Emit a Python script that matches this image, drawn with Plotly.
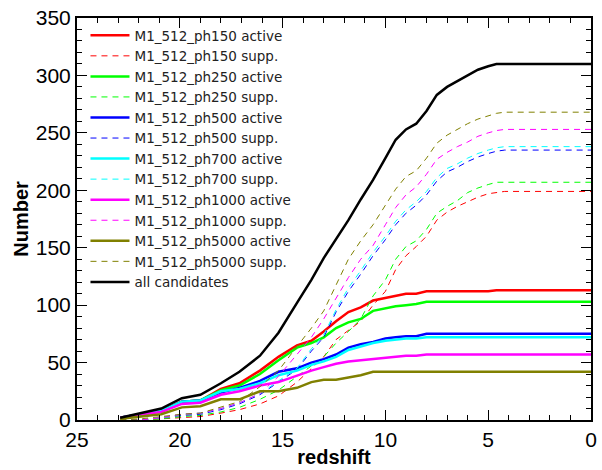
import plotly.graph_objects as go

redshift = [22.9, 21.9, 20.9, 19.9, 19.0, 18.0, 17.1, 16.1, 15.2, 14.3, 13.6, 13.0, 12.4, 11.8,
            11.2, 10.6, 10.0, 9.5, 9.0, 8.5, 8.0, 7.5, 7.0, 6.5, 6.0, 5.5, 5.0, 4.6, 4.2, 0.0]

ph150_active = [2, 5, 8, 16, 17, 27, 32, 43, 55, 65, 69, 77, 86, 94, 98, 104, 106, 108, 110, 110,
                112, 112, 112, 112, 112, 112, 112, 113, 113, 113]
ph150_supp = [0, 0, 1, 2, 3, 6, 9, 14, 21, 33, 45, 55, 70, 78, 86, 100, 112, 131, 143, 151,
              160, 174, 181, 186, 190, 194, 197, 198, 199, 199]
ph250_active = [2, 5, 8, 16, 17, 26, 30, 40, 52, 63, 67, 72, 80, 85, 88, 95, 97, 99, 100, 101,
                103, 103, 103, 103, 103, 103, 103, 103, 103, 103]
ph250_supp = [0, 0, 1, 3, 4, 7, 11, 18, 26, 38, 47, 55, 67, 77, 88, 108, 122, 140, 151, 156,
              166, 180, 186, 191, 198, 202, 205, 207, 207, 207]
ph500_active = [2, 5, 8, 16, 17, 24, 28, 34, 42, 45, 50, 53, 57, 63, 66, 68, 71, 72, 73, 73,
                75, 75, 75, 75, 75, 75, 75, 75, 75, 75]
ph500_supp = [0, 0, 2, 4, 5, 9, 14, 22, 33, 44, 60, 72, 94, 112, 127, 143, 157, 170, 180, 187,
              196, 208, 216, 220, 225, 229, 232, 234, 235, 235]
ph700_active = [2, 5, 8, 16, 17, 25, 27, 32, 39, 43, 48, 51, 55, 61, 64, 67, 69, 70, 71, 71,
                72, 72, 72, 72, 72, 72, 72, 72, 72, 72]
ph700_supp = [0, 0, 2, 5, 6, 10, 15, 23, 34, 45, 62, 74, 96, 115, 130, 146, 160, 173, 183, 190,
              199, 211, 219, 223, 228, 232, 235, 237, 238, 238]
ph1000_active = [2, 5, 7, 14, 15, 22, 25, 30, 33, 39, 43, 46, 49, 51, 52, 53, 54, 55, 56, 56,
                 57, 57, 57, 57, 57, 57, 57, 57, 57, 57]
ph1000_supp = [0, 0, 2, 5, 6, 10, 15, 23, 38, 57, 72, 88, 106, 124, 140, 152, 170, 185, 196, 203,
               214, 227, 233, 238, 242, 247, 250, 252, 253, 253]
ph5000_active = [1, 3, 5, 11, 12, 18, 18, 25, 25, 28, 33, 35, 35, 37, 39, 42, 42, 42, 42, 42,
                 42, 42, 42, 42, 42, 42, 42, 42, 42, 42]
ph5000_supp = [0, 1, 3, 5, 6, 11, 16, 29, 43, 64, 80, 95, 118, 140, 156, 170, 187, 201, 212, 217,
               228, 241, 248, 253, 258, 262, 265, 267, 268, 268]
all_candidates = [2, 6, 10, 19, 22, 32, 42, 56, 76, 102, 122, 141, 157, 174, 192, 209, 228, 244,
                  253, 258, 269, 283, 290, 295, 300, 305, 308, 310, 310, 310]

series = [
    ("M1_512_ph150 active", ph150_active, "#ff0000", "solid"),
    ("M1_512_ph150 supp.", ph150_supp, "#ff0000", "dash"),
    ("M1_512_ph250 active", ph250_active, "#00ff00", "solid"),
    ("M1_512_ph250 supp.", ph250_supp, "#00ff00", "dash"),
    ("M1_512_ph500 active", ph500_active, "#0000ff", "solid"),
    ("M1_512_ph500 supp.", ph500_supp, "#0000ff", "dash"),
    ("M1_512_ph700 active", ph700_active, "#00ffff", "solid"),
    ("M1_512_ph700 supp.", ph700_supp, "#00ffff", "dash"),
    ("M1_512_ph1000 active", ph1000_active, "#ff00ff", "solid"),
    ("M1_512_ph1000 supp.", ph1000_supp, "#ff00ff", "dash"),
    ("M1_512_ph5000 active", ph5000_active, "#808000", "solid"),
    ("M1_512_ph5000 supp.", ph5000_supp, "#808000", "dash"),
    ("all candidates", all_candidates, "#000000", "solid"),
]

fig = go.Figure()
for name, vals, color, style in series:
    if style == "solid":
        line = dict(color=color, width=2.5)
    else:
        line = dict(color=color, width=1, dash="6px,5px")
    fig.add_trace(go.Scatter(x=redshift, y=vals, mode="lines", name=name, line=line))

font_family = "Liberation Sans, Arial, sans-serif"
axis_common = dict(
    showgrid=False, zeroline=False, showline=True, linecolor="black", linewidth=2,
    mirror="allticks", ticks="inside", tickcolor="black", tickwidth=1, ticklen=10,
    tickfont=dict(family=font_family, size=21, color="black"),
)
fig.update_xaxes(
    range=[25, 0], tick0=0, dtick=5,
    minor=dict(dtick=1, ticks="inside", ticklen=5, tickcolor="black", tickwidth=1),
    title=dict(text="<b>redshift</b>", font=dict(family=font_family, size=20, color="black"), standoff=0),
    **axis_common,
)
fig.update_yaxes(
    range=[0, 350], tick0=0, dtick=50,
    minor=dict(dtick=10, ticks="inside", ticklen=5, tickcolor="black", tickwidth=1),
    title=dict(text="<b>Number</b>", font=dict(family=font_family, size=20, color="black"), standoff=2),
    **axis_common,
)
fig.update_layout(
    width=602, height=470,
    margin=dict(l=77, r=5, t=18, b=46),
    plot_bgcolor="white", paper_bgcolor="white",
    legend=dict(x=0.0165, y=0.995, xanchor="left", yanchor="top", bgcolor="rgba(0,0,0,0)",
                font=dict(family="DejaVu Sans, sans-serif", size=13.5, color="#222222"),
                tracegroupgap=0, itemwidth=39),
    showlegend=True,
)
fig.write_html("out.html")
